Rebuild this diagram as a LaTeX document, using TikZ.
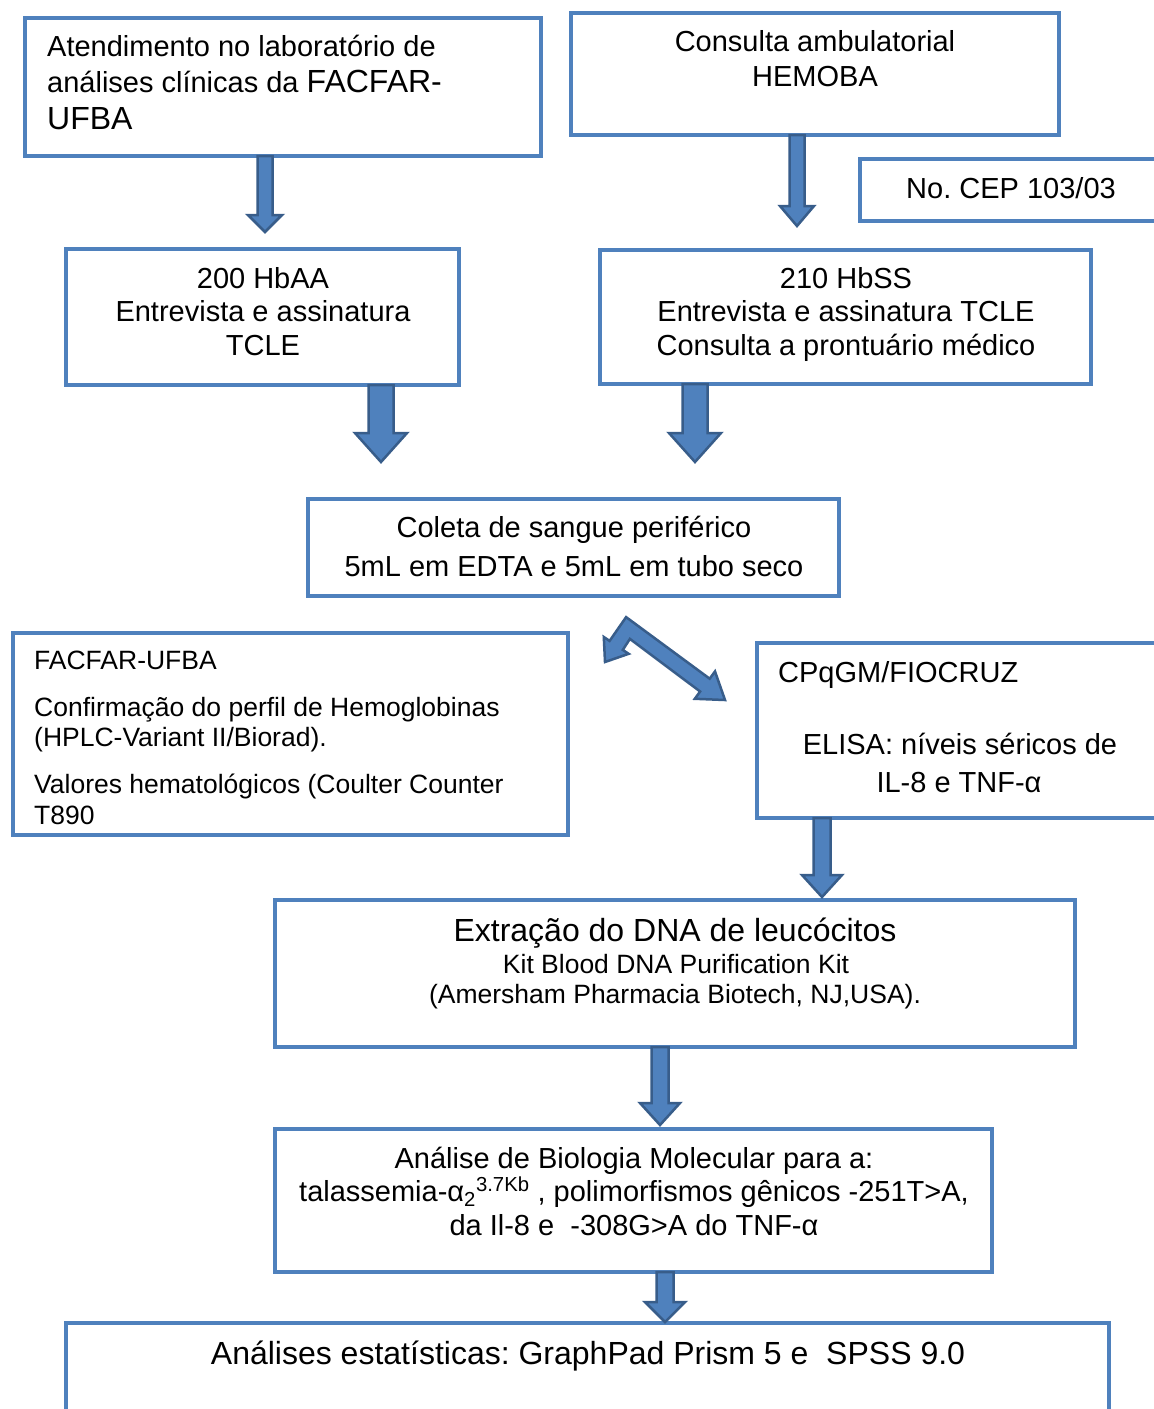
\documentclass[tikz,border=0pt]{standalone}
\usepackage{fontspec}
\setmainfont{Liberation Sans}
\usetikzlibrary{calc}
\definecolor{boxblue}{HTML}{4F81BD}
\definecolor{arrowline}{HTML}{385D8A}
\frenchspacing
\newcommand\fsz[1]{\fontsize{#1}{#1}\selectfont}
\newcommand\varrow[5]{%
  \path[barrow] let \p1=(#1), \p2=(#2) in
   (\x1-#3,\y1) -- (\x1+#3,\y1) -- (\x1+#3,\y2+#5) -- (\x1+#4,\y2+#5) -- (\x1,\y2)
   -- (\x1-#4,\y2+#5) -- (\x1-#3,\y2+#5) -- cycle;}
\tikzset{
  box/.style={draw=boxblue, line width=4pt, outer sep=0pt, inner sep=0pt},
  txt/.style={inner sep=0pt, anchor=base, font=\fsz{29}},
  txtl/.style={txt, anchor=base west},
  barrow/.style={fill=boxblue, draw=arrowline, line width=2.5pt, line join=miter}
}
\begin{document}
\begin{tikzpicture}[x=1pt,y=-1pt]
\useasboundingbox[fill=white] (0,0) rectangle (1154,1409);
% boxes
\node[box, minimum width=516, minimum height=138] (boxA) at (283,87) {};
\node[box, minimum width=488, minimum height=122] (boxB) at (815,74) {};
\node[box, minimum width=320, minimum height=62] (cep) at (1020,190) {};
\node[box, minimum width=393, minimum height=136] (hbaa) at (262.5,317) {};
\node[box, minimum width=491, minimum height=134] (hbss) at (845.5,317) {};
\node[box, minimum width=531, minimum height=97] (coleta) at (573.5,547.5) {};
\node[box, minimum width=555, minimum height=202] (facfar) at (290.5,734) {};
\node[box, minimum width=423, minimum height=175] (cpq) at (968.5,730.5) {};
\node[box, minimum width=800, minimum height=147] (dna) at (675,973.5) {};
\node[box, minimum width=717, minimum height=143] (bio) at (633.5,1200.5) {};
\node[box, minimum width=1043, minimum height=117] (stat) at (587.5,1381.5) {};
% texts
\node[txtl] (ta1) at (47,56) {Atendimento no laboratório de};
\node[txtl] (ta2) at (47,92) {análises clínicas da {\fsz{32}FACFAR-}};
\node[txtl] (ta3) at (47,129) {\fsz{32}UFBA};
\node[txt] (tb1) at (815,51) {Consulta ambulatorial};
\node[txt] (tb2) at (815,86) {HEMOBA};
\node[txt] (tc) at (1011,198) {No. CEP 103/03};
\node[txt] (th1) at (263,288) {200 HbAA};
\node[txt] (th2) at (263,321) {Entrevista e assinatura};
\node[txt] (th3) at (263,355) {TCLE};
\node[txt] (ts1) at (846,288) {210 HbSS};
\node[txt] (ts2) at (846,321) {Entrevista e assinatura TCLE};
\node[txt] (ts3) at (846,355) {Consulta a prontuário médico};
\node[txt] (tco1) at (574,537) {Coleta de sangue periférico};
\node[txt] (tco2) at (574,576) {5mL em EDTA e 5mL em tubo seco};
\node[txtl, font=\fsz{26.5}] (tf1) at (34,669) {FACFAR-UFBA};
\node[txtl, font=\fsz{26.5}] (tf2) at (34,716) {Confirmação do perfil de Hemoglobinas};
\node[txtl, font=\fsz{26.5}] (tf3) at (34,746) {(HPLC-Variant II/Biorad).};
\node[txtl, font=\fsz{26.5}] (tf4) at (34,793) {Valores hematológicos (Coulter Counter};
\node[txtl, font=\fsz{26.5}] (tf5) at (34,824) {T890};
\node[txtl] (tq1) at (778,682) {CPqGM/FIOCRUZ};
\node[txt] (tq2) at (960,754) {ELISA: níveis séricos de};
\node[txt] (tq3) at (959,792) {IL-8 e TNF-α};
\node[txt, font=\fsz{32}] (td1) at (675,941) {Extração do DNA de leucócitos};
\node[txt, font=\fsz{26.5}] (td2) at (676,973) {Kit Blood DNA Purification Kit};
\node[txt, font=\fsz{26.5}] (td3) at (675,1003) {(Amersham Pharmacia Biotech, NJ,USA).};
\node[txt] (tm1) at (634,1168) {Análise de Biologia Molecular para a:};
\node[txt] (tm2) at (634,1201) {talassemia-α\textsubscript{2}\textsuperscript{3.7Kb} , polimorfismos gênicos -251T>A,};
\node[txt] (tm3) at (634,1235) {da Il-8 e~~-308G>A do TNF-α};
\node[txt, font=\fsz{32}] (tst) at (588,1364) {Análises estatísticas: GraphPad Prism 5 e~~SPSS 9.0};
% arrow tips
\coordinate (t1) at (265,232);
\coordinate (t2) at (797,226);
\coordinate (t3) at (381,462);
\coordinate (t4) at (695,462);
\coordinate (t5) at (822,897);
\coordinate (t6) at (660,1125);
\coordinate (t7) at (665,1322);
\varrow{t1 |- boxA.south}{t1}{7.5pt}{17pt}{17pt}
\varrow{t2 |- boxB.south}{t2}{7.5pt}{17pt}{20pt}
\varrow{t3 |- hbaa.south}{t3}{12.5pt}{26pt}{29pt}
\varrow{t4 |- hbss.south}{t4}{12.5pt}{26pt}{29pt}
\varrow{t5 |- cpq.south}{t5}{8.5pt}{20pt}{22pt}
\varrow{t6 |- dna.south}{t6}{8.5pt}{20pt}{22pt}
\varrow{t7 |- bio.south}{t7}{8.5pt}{20pt}{20pt}
% bent double arrow
\path[barrow] (626.1,617.1) -- (709.7,678.7) -- (715.0,671.4) -- (725,700) -- (694.8,698.8)
  -- (700.1,691.5) -- (629.9,638.9) -- (622.8,649.9) -- (628.7,653.8) -- (605,662)
  -- (603.8,637.0) -- (609.6,640.9) -- cycle;
\end{tikzpicture}
\end{document}
